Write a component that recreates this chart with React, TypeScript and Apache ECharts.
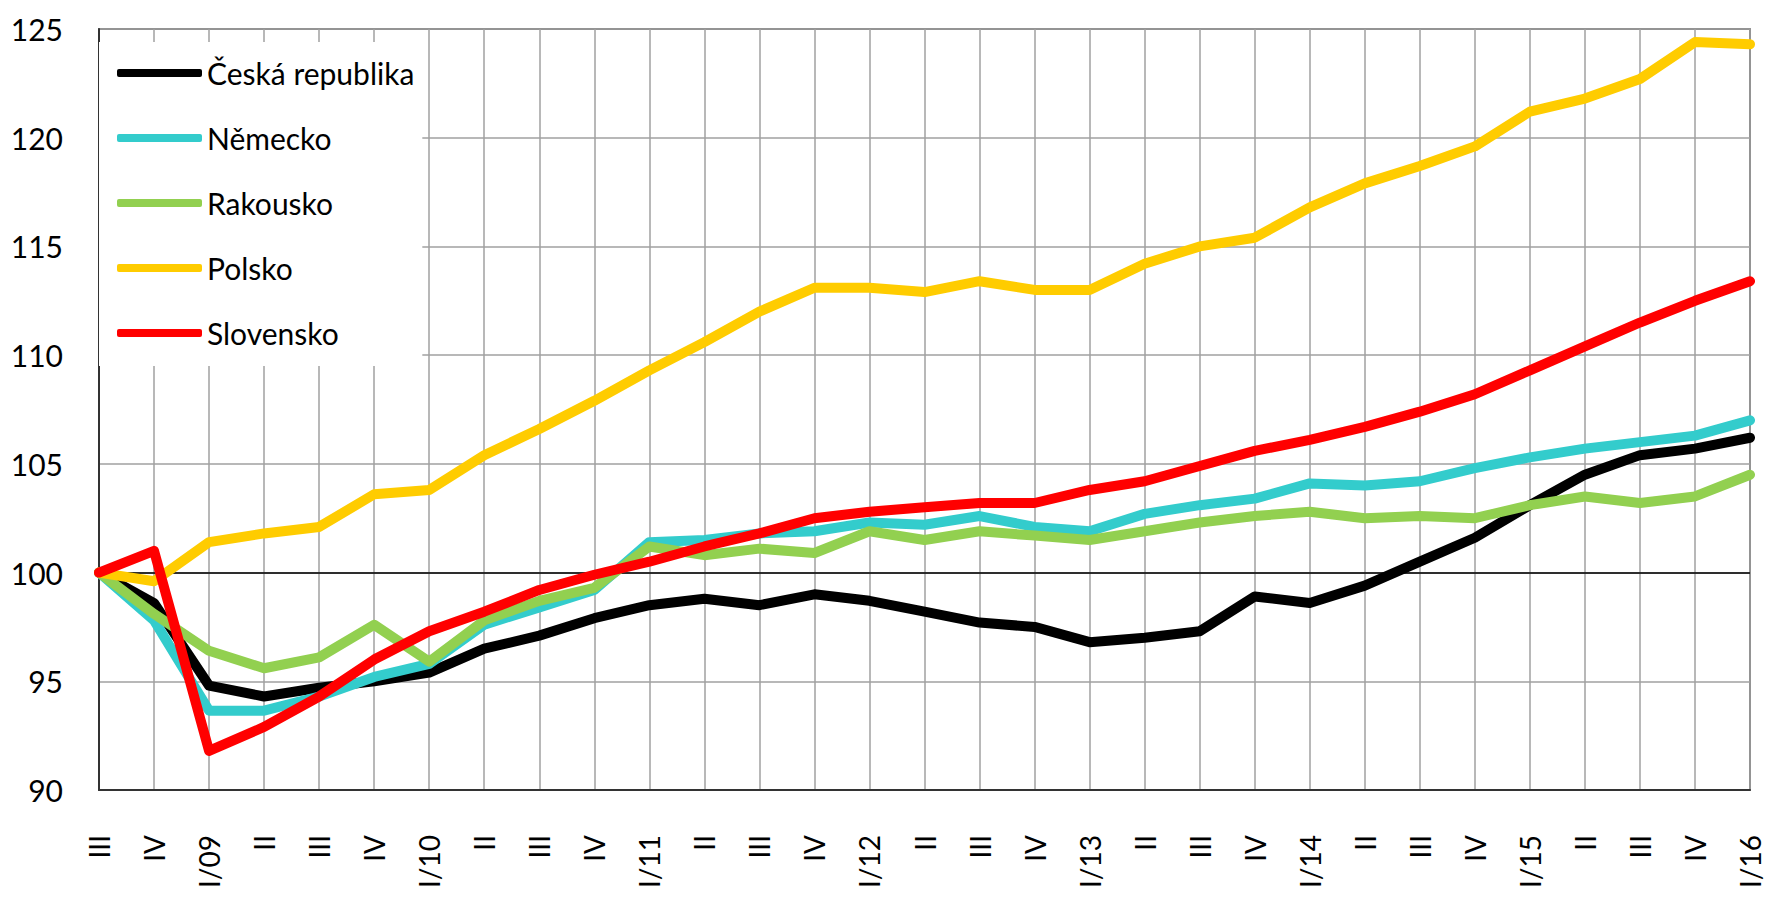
import React, { useEffect, useRef } from "react";
import * as echarts from "echarts";

const categories = [
  "III", "IV",
  "I/09", "II", "III", "IV",
  "I/10", "II", "III", "IV",
  "I/11", "II", "III", "IV",
  "I/12", "II", "III", "IV",
  "I/13", "II", "III", "IV",
  "I/14", "II", "III", "IV",
  "I/15", "II", "III", "IV",
  "I/16",
];

const ceskaRepublika = [100, 98.6, 94.8, 94.3, 94.7, 95.0, 95.4, 96.5, 97.1, 97.9, 98.5, 98.8, 98.5, 99.0, 98.7, 98.2, 97.7, 97.5, 96.8, 97.0, 97.3, 98.9, 98.6, 99.4, 100.5, 101.6, 103.1, 104.5, 105.4, 105.7, 106.2];
const nemecko = [100, 97.8, 93.65, 93.65, 94.3, 95.2, 95.8, 97.6, 98.4, 99.2, 101.4, 101.5, 101.8, 101.9, 102.3, 102.2, 102.6, 102.1, 101.9, 102.7, 103.1, 103.4, 104.1, 104.0, 104.2, 104.8, 105.3, 105.7, 106.0, 106.3, 107.0];
const rakousko = [100, 98.1, 96.4, 95.6, 96.1, 97.6, 95.9, 97.8, 98.7, 99.3, 101.2, 100.8, 101.1, 100.9, 101.9, 101.5, 101.9, 101.7, 101.5, 101.9, 102.3, 102.6, 102.8, 102.5, 102.6, 102.5, 103.1, 103.5, 103.2, 103.5, 104.5];
const polsko = [100, 99.6, 101.4, 101.8, 102.1, 103.6, 103.8, 105.4, 106.6, 107.9, 109.3, 110.6, 112.0, 113.1, 113.1, 112.9, 113.4, 113.0, 113.0, 114.2, 115.0, 115.4, 116.8, 117.9, 118.7, 119.6, 121.2, 121.8, 122.7, 124.4, 124.3];
const slovensko = [100, 101.0, 91.8, 92.9, 94.3, 96.0, 97.3, 98.2, 99.2, 99.9, 100.5, 101.2, 101.8, 102.5, 102.8, 103.0, 103.2, 103.2, 103.8, 104.2, 104.9, 105.6, 106.1, 106.7, 107.4, 108.2, 109.3, 110.4, 111.5, 112.5, 113.4];

const seriesNames = ["Česká republika", "Německo", "Rakousko", "Polsko", "Slovensko"];
const seriesColors = ["#000000", "#33CCCC", "#92D050", "#FFCC00", "#FF0000"];
const seriesData = [ceskaRepublika, nemecko, rakousko, polsko, slovensko];

const FONT = "Lato, 'Open Sans', sans-serif";

export default function App() {
  const ref = useRef<HTMLDivElement>(null);

  useEffect(() => {
    if (!ref.current) return;
    const chart = echarts.init(ref.current, null, { renderer: "svg" });
    const series: any[] = seriesNames.map((name, i) => ({
      name,
      type: "line",
      data: seriesData[i],
      showSymbol: false,
      symbol: "none",
      z: 3 + i,
      lineStyle: { color: seriesColors[i], width: 10, cap: "round", join: "round" },
      itemStyle: { color: seriesColors[i] },
      ...(i === 0
        ? {
            markLine: {
              silent: true,
              symbol: "none",
              label: { show: false },
              lineStyle: { color: "#000", width: 1.5, type: "solid" },
              data: [{ yAxis: 100 }],
              z: 2,
            },
          }
        : {}),
    }));

    chart.setOption({
      animation: false,
      backgroundColor: "#ffffff",
      textStyle: { fontFamily: FONT },
      grid: {
        left: 99,
        right: 15,
        top: 29,
        bottom: 107,
        containLabel: false,
        outerBoundsMode: "none",
        show: true,
        borderColor: "#444",
        borderWidth: 1.5,
        backgroundColor: "transparent",
      },
      legend: {
        show: true,
        orient: "vertical",
        left: 99,
        top: 42,
        padding: [16, 8, 18, 18],
        backgroundColor: "#ffffff",
        itemWidth: 85,
        itemHeight: 8,
        itemGap: 35,
        icon: "roundRect",
        data: seriesNames,
        textStyle: { fontFamily: FONT, fontSize: 30, color: "#000" },
        selectedMode: false,
      },
      xAxis: {
        type: "category",
        data: categories,
        boundaryGap: false,
        axisLine: { show: true, lineStyle: { color: "#333", width: 2 } },
        axisTick: { show: false },
        axisLabel: {
          interval: 0,
          rotate: 90,
          margin: 45,
          fontFamily: FONT,
          fontSize: 28,
          color: "#000",
        },
        splitLine: { show: true, lineStyle: { color: "#a0a0a0", width: 1.5 } },
      },
      yAxis: {
        type: "value",
        min: 90,
        max: 125,
        interval: 5,
        axisLine: { show: true, lineStyle: { color: "#333", width: 2 } },
        axisTick: { show: false },
        axisLabel: {
          margin: 36,
          fontFamily: FONT,
          fontSize: 30,
          color: "#000",
        },
        splitLine: { show: true, lineStyle: { color: "#a0a0a0", width: 1.5 } },
      },
      series,
    });
    return () => chart.dispose();
  }, []);

  return (
    <div
      ref={ref}
      style={{ position: "fixed", left: 0, top: 0, width: 1765, height: 897, background: "#fff" }}
    />
  );
}
